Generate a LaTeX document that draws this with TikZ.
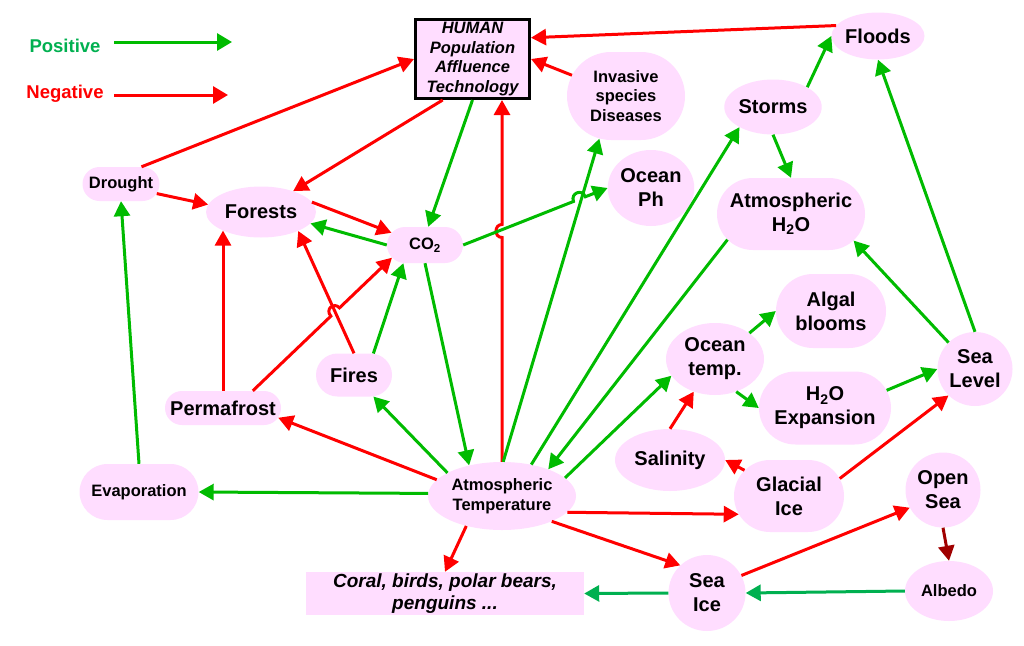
\documentclass[tikz,border=0pt]{standalone}
\usepackage{fontspec}
\setmainfont{Liberation Sans}
\usepackage{tikz}
\usetikzlibrary{arrows.meta, calc, shapes.geometric, shapes.misc}
\definecolor{boxpink}{RGB}{255,221,255}
\definecolor{posgreen}{RGB}{0,187,0}
\definecolor{seagreen}{RGB}{0,176,80}
\definecolor{negred}{RGB}{255,0,0}
\definecolor{deepred}{RGB}{160,0,0}
\tikzset{
  link/.style={
    -{Triangle[length=15pt, width=16pt]},
    line width=3pt
  },
  pos link/.style={link, color=posgreen},
  sea link/.style={link, color=seagreen},
  neg link/.style={link, color=negred},
  deep link/.style={link, color=deepred},
  factor oval/.style={
    ellipse,
    fill=boxpink,
    inner sep=0pt,
    align=center
  },
  % 圆角框只给外形，文字放在 label 里
  factor pill/.style={
    rounded rectangle,
    fill=boxpink,
    inner sep=0pt
  },
  dims/.style 2 args={
    minimum width=#1pt,
    minimum height=#2pt
  },
  big label/.style={font=\fontsize{20}{24}\selectfont\bfseries, align=center},
  small label/.style={font=\fontsize{16.5}{19.5}\selectfont\bfseries, align=center},
  legend label/.style={font=\fontsize{18.5}{22}\selectfont\bfseries, anchor=base}
}

\begin{document}
\begin{tikzpicture}[x=1pt, y=-1pt]
  \fill[white] (0,0) rectangle (1024,645);
  \useasboundingbox (0,0) rectangle (1024,645);

  % 图例
  \node[legend label, text=seagreen] (posLabel) at (65,52) {Positive};
  \node[legend label, text=negred] (negLabel) at (65,98) {Negative};
  \coordinate (posTail) at (114,42);
  \coordinate (posTip) at (232,42);
  \coordinate (negTail) at (114,95);
  \coordinate (negTip) at (228,95);
  \draw[pos link, -{Triangle[length=15pt, width=17pt]}] (posTail) -- (posTip);
  \draw[neg link, -{Triangle[length=15pt, width=17pt]}] (negTail) -- (negTip);

  % 人类活动
  \node[draw=black, line width=3pt, fill=boxpink, dims={114}{79}, inner sep=1pt,
        align=center, font=\fontsize{16.5}{19.5}\selectfont\bfseries\itshape]
    (human) at (472.5,59) {HUMAN\\Population\\Affluence\\Technology};

  % 上半部分
  \node[factor oval, big label, dims={93}{47}] (floods) at (878,36) {Floods};
  \node[factor pill, dims={118}{88}, label={[small label]center:Invasive\\species\\Diseases}]
    (invasive) at (626,96) {};
  \node[factor oval, big label, dims={82}{76}] (oph) at (651,188) {Ocean\\Ph};
  \node[factor oval, big label, dims={95}{55}] (storms) at (773,107) {Storms};
  \node[factor pill, dims={148}{72}, label={[big label]center:Atmospheric\\H\textsubscript{2}O}]
    (ah2o) at (791,214) {};
  \node[factor pill, dims={77}{34}, label={[small label]center:Drought}]
    (drought) at (121,184) {};
  \node[factor oval, big label, dims={110}{51}] (forests) at (261,212) {Forests};
  \node[factor pill, dims={76}{36}, label={[small label]center:CO\textsubscript{2}}]
    (co2) at (425,245) {};

  % 中间部分
  \node[factor pill, dims={110}{74}, label={[big label]center:Algal\\blooms}]
    (algal) at (831,311) {};
  \node[factor oval, big label, dims={98}{72}] (otemp) at (715,359) {Ocean\\temp.};
  \node[factor pill, dims={132}{73}, label={[big label]center:H\textsubscript{2}O\\Expansion}]
    (h2oexp) at (825,408) {};
  \node[factor oval, big label, dims={75}{74}] (sealevel) at (975,369) {Sea\\Level};
  \node[factor pill, dims={76}{43}, label={[big label]center:Fires}]
    (fires) at (354,375) {};
  \node[factor pill, dims={116}{34}, label={[big label]center:Permafrost}]
    (permafrost) at (223,408) {};
  \node[factor oval, big label, dims={110}{62}] (salinity) at (670,460) {Salinity};

  % 下半部分
  \node[factor pill, dims={110}{72}, label={[big label]center:Glacial\\Ice}]
    (glacial) at (789,496) {};
  \node[factor pill, dims={119}{56}, label={[small label]center:Evaporation}]
    (evap) at (139,492) {};
  \node[factor oval, small label, dims={148}{68}] (atemp) at (502,496) {Atmospheric\\Temperature};
  \node[factor oval, big label, dims={75}{75}] (opensea) at (943,490) {Open\\Sea};
  \node[factor oval, small label, dims={88}{60}] (albedo) at (949,591) {Albedo};
  \node[factor oval, big label, dims={77}{76}] (seaice) at (707,593) {Sea\\Ice};
  \node[fill=boxpink, dims={278}{43}, inner sep=1pt, align=center,
        font=\fontsize{19}{22}\selectfont\bfseries\itshape]
    (coral) at (445,593.5) {Coral, birds, polar bears,\\penguins ...};

  \coordinate (humanFoot) at (atemp.north |- human.south);

  % 负反馈（红色）
  \draw[neg link] (drought.40) -- (human.west);
  \draw[neg link] (human.-126) -- (forests.33);
  \draw[neg link] (drought.-15) -- (forests.172);
  \draw[neg link] (forests.11) -- (co2.160);
  \draw[neg link] (permafrost.north) -- (permafrost.north |- forests.-154);
  \draw[neg link] (fires.north) -- (forests.-27);
  \draw[neg link] (permafrost.30)
    -- ($(permafrost.30)!0.561!(co2.-159)$)
    .. controls +(-6,-6.5) and +(-6,-6.5) .. ($(permafrost.30)!0.623!(co2.-159)$)
    -- (co2.-159);
  \draw[neg link] (atemp.north)
    -- ($(atemp.north)!0.62!(humanFoot)$)
    .. controls +(-8,0) and +(-8,0) .. ($(atemp.north)!0.656!(humanFoot)$)
    -- (humanFoot);
  \draw[neg link] (invasive.159) -- (human.east);
  \draw[neg link] (floods.166) -- (human.20);
  \draw[neg link] (atemp.166) -- (permafrost.-10);
  \draw[neg link] (atemp.-140) -- (coral.north);
  \draw[neg link] (atemp.-14) -- (glacial.-160);
  \draw[neg link] (atemp.-27) -- (seaice.134);
  \draw[neg link] (salinity.north) -- (otemp.-123);
  \draw[neg link] (glacial.150) -- (salinity.east);
  \draw[neg link] (glacial.19) -- (sealevel.-135);
  \draw[neg link] (seaice.27) -- (opensea.-152);
  \draw[deep link] (opensea.south) -- (albedo.north);

  % 正反馈（绿色）
  \draw[pos link] (human.south) -- (co2.80);
  \draw[pos link] (co2.west) -- (forests.-13);
  \draw[pos link] (co2.east)
    -- ($(co2.east)!0.764!(oph.west)$)
    .. controls +(-3.2,-8.4) and +(-3.2,-8.4) .. ($(co2.east)!0.846!(oph.west)$)
    -- (oph.west);
  \draw[pos link] (co2.south) -- (atemp.137);
  \draw[pos link] (fires.48) -- (co2.-140);
  \draw[pos link] (atemp.157) -- (fires.-48);
  \draw[pos link] (atemp.178) -- (evap.east);
  \draw[pos link] (evap.north) -- (drought.south);
  \draw[pos link] (atemp.88) -- (invasive.-122);
  \draw[pos link] (atemp.47) -- (storms.-149);
  \draw[pos link] (ah2o.-158) -- (atemp.30);
  \draw[pos link] (atemp.16) -- (otemp.-159);
  \draw[pos link] (storms.30) -- (floods.west);
  \draw[pos link] (storms.south) -- (ah2o.north);
  \draw[pos link] (sealevel.north) -- (floods.south);
  \draw[pos link] (sealevel.135) -- (ah2o.-23);
  \draw[pos link] (otemp.37) -- (algal.west);
  \draw[pos link] (otemp.-57) -- (h2oexp.west);
  \draw[pos link] (h2oexp.16) -- (sealevel.west);
  \draw[sea link] (albedo.west) -- (seaice.east);
  \draw[sea link] (seaice.west) -- (coral.east);
\end{tikzpicture}
\end{document}
